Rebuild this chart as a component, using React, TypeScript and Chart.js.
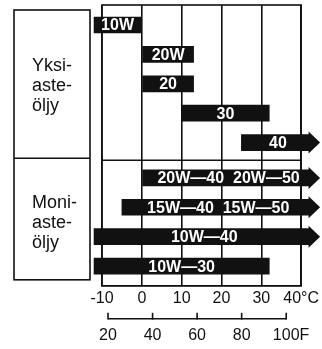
import React, { useEffect, useRef } from "react";
import { Chart, registerables } from "chart.js";

Chart.register(...registerables);

// ---- data ----
const grades = ["10W", "20W", "20", "30", "40", "20W—40  20W—50", "15W—40  15W—50", "10W—40", "10W—30"];
const groupOf = [0, 0, 0, 0, 0, 1, 1, 1, 1];
const lowC = [-12, 0, 0, 10, 25, 0, -5, -12, -12];
const highC = [0, 13, 13, 32, 42, 42, 42, 42, 32];
const continues = [false, false, false, false, true, true, true, true, false];
const celsiusTicks = [-10, 0, 10, 20, 30, 40];
const fahrenheitTicks = [20, 40, 60, 80, 100];
const groupNames = [
  ["Yksi-", "aste-", "öljy"],
  ["Moni-", "aste-", "öljy"],
];

const GROUP_GAP = 0.2;
const FONT = "'Liberation Sans', Arial, Helvetica, sans-serif";
const INK = "#111";
const HEAD = 11;

const rowPos = grades.map((_, i) => i + groupOf[i] * GROUP_GAP);

const decor = {
  id: "decor",
  beforeDatasetsDraw(chart: any) {
    const { ctx, chartArea: a, scales } = chart;
    const y = scales.y;
    ctx.save();
    ctx.strokeStyle = INK;
    ctx.lineWidth = 1.6;
    ctx.strokeRect(a.left, a.top, a.right - a.left, a.bottom - a.top);
    const firstLower = groupOf.indexOf(1);
    const sep = y.getPixelForValue((rowPos[firstLower - 1] + rowPos[firstLower]) / 2);
    ctx.beginPath();
    ctx.moveTo(a.left, sep);
    ctx.lineTo(a.right, sep);
    ctx.stroke();

    // left group boxes
    const bx0 = 14, bx1 = 90;
    const top = a.top + 5, bottom = a.bottom - 6;
    ctx.strokeRect(bx0, top, bx1 - bx0, bottom - top);
    ctx.beginPath();
    ctx.moveTo(bx0, sep - 2);
    ctx.lineTo(bx1, sep - 2);
    ctx.stroke();
    ctx.fillStyle = INK;
    ctx.font = `18px ${FONT}`;
    ctx.textAlign = "left";
    ctx.textBaseline = "alphabetic";
    const boxes = [
      [top, sep - 2],
      [sep - 2, bottom],
    ];
    groupNames.forEach((lines, g) => {
      const c = (boxes[g][0] + boxes[g][1]) / 2 + (g === 1 ? 2 : 0);
      lines.forEach((t, k) => ctx.fillText(t, 32, c - 13 + k * 20));
    });
    ctx.restore();
  },
  afterDatasetsDraw(chart: any) {
    const { ctx } = chart;
    const meta = chart.getDatasetMeta(0);
    ctx.save();
    meta.data.forEach((el: any, i: number) => {
      const h = el.height;
      const x0 = Math.min(el.x, el.base);
      const x1 = Math.max(el.x, el.base);
      ctx.fillStyle = INK;
      if (continues[i]) {
        ctx.beginPath();
        ctx.moveTo(x1 - 0.5, el.y - h / 2 - 3);
        ctx.lineTo(x1 + HEAD, el.y);
        ctx.lineTo(x1 - 0.5, el.y + h / 2 + 3);
        ctx.closePath();
        ctx.fill();
      }
      const cx = (x0 + x1 + (continues[i] ? HEAD / 2 : 0)) / 2;
      ctx.fillStyle = "#fff";
      ctx.font = `bold 16px ${FONT}`;
      ctx.textAlign = "center";
      ctx.textBaseline = "middle";
      ctx.fillText(grades[i], cx, el.y + 1);
    });
    ctx.restore();
  },
  afterDraw(chart: any) {
    const { ctx, chartArea: a, scales } = chart;
    const f = scales.xF;
    const lineY = a.bottom + 33;
    ctx.save();
    ctx.strokeStyle = INK;
    ctx.lineWidth = 1.6;
    ctx.beginPath();
    ctx.moveTo(f.getPixelForValue(fahrenheitTicks[0]), lineY);
    ctx.lineTo(f.getPixelForValue(fahrenheitTicks[fahrenheitTicks.length - 1]), lineY);
    ctx.stroke();
    ctx.font = `16px ${FONT}`;
    ctx.fillStyle = INK;
    ctx.textBaseline = "alphabetic";
    fahrenheitTicks.forEach((v, k) => {
      const px = f.getPixelForValue(v);
      ctx.beginPath();
      ctx.moveTo(px, lineY - 6);
      ctx.lineTo(px, lineY + 0.8);
      ctx.stroke();
      const num = String(v);
      const w = ctx.measureText(num).width;
      ctx.textAlign = "left";
      ctx.fillText(k === fahrenheitTicks.length - 1 ? num + "F" : num, px - w / 2, lineY + 21);
    });
    ctx.restore();
  },
};

export default function App() {
  const ref = useRef<HTMLCanvasElement | null>(null);
  useEffect(() => {
    document.body.style.margin = "0";
    const canvas = ref.current;
    if (!canvas) return;
    Chart.defaults.font.family = FONT;
    const chart = new Chart(canvas, {
      type: "bar",
      data: {
        datasets: [
          {
            data: grades.map((_, i) => ({ x: [lowC[i], highC[i]], y: rowPos[i] })) as any,
            backgroundColor: INK,
            borderWidth: 0,
            barThickness: 16,
            clip: false as any,
          },
        ],
      },
      options: {
        indexAxis: "y",
        responsive: false,
        animation: false,
        layout: { padding: { left: 102, right: 20, top: 5, bottom: 38 } },
        plugins: { legend: { display: false }, tooltip: { enabled: false } },
        scales: {
          x: {
            type: "linear",
            position: "bottom",
            min: -10,
            max: 40,
            afterBuildTicks: (s: any) => {
              s.ticks = celsiusTicks.map((v) => ({ value: v }));
            },
            grid: { color: INK, lineWidth: 1.6, drawTicks: false },
            border: { display: true, color: INK, width: 1.6 },
            ticks: {
              padding: 3,
              color: INK,
              font: { size: 16, family: FONT },
              maxRotation: 0,
              callback: (v: any) => (Number(v) === 40 ? "40°C" : String(v)),
            },
          },
          xF: {
            type: "linear",
            axis: "x",
            position: "bottom",
            display: false,
            min: 17.3,
            max: 106.7,
          },
          y: {
            type: "linear",
            reverse: true,
            offset: false,
            min: -0.68,
            max: 8.87,
            display: false,
          },
        },
      },
      plugins: [decor],
    });
    return () => chart.destroy();
  }, []);
  return (
    <div style={{ width: 322, height: 349, background: "#fff" }}>
      <canvas ref={ref} width={322} height={349} style={{ display: "block" }} />
    </div>
  );
}
